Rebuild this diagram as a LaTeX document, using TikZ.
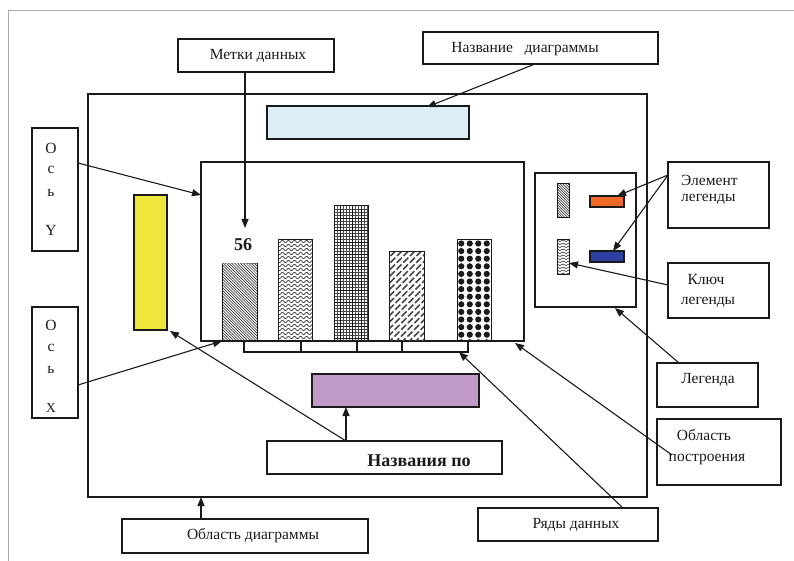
\documentclass[tikz,border=0pt]{standalone}
\usepackage{fontspec}
\setmainfont{Liberation Serif}
\usetikzlibrary{arrows.meta}
\definecolor{titleblue}{HTML}{DAEEF3}
\definecolor{axyellow}{HTML}{EEE63A}
\definecolor{axpurple}{HTML}{C09AC8}
\definecolor{legorange}{HTML}{F26A28}
\definecolor{legblue}{HTML}{2E3FA2}
\definecolor{frame}{HTML}{AAAAAA}
\definecolor{ink}{HTML}{1A1A1A}
\begin{document}
\begin{tikzpicture}[x=1pt,y=-1pt,
  box/.style={draw=ink, line width=1.6pt, rectangle, inner sep=0pt, outer sep=0pt},
  thinbox/.style={draw=ink, line width=1.2pt, rectangle, inner sep=0pt, outer sep=0pt},
  txt/.style={font=\fontsize{15.5}{18}\selectfont, inner sep=0pt, text=ink},
  bigtxt/.style={font=\fontsize{18}{21}\selectfont\bfseries, inner sep=0pt, text=ink},
  arr/.style={draw=ink, line width=1.1pt, -{Triangle[length=9pt,width=7pt]}},
  barb/.style={draw=ink, line width=1pt, rectangle, inner sep=0pt, outer sep=0pt},
]
\path[use as bounding box] (0,0) rectangle (794,561);
\draw[frame, line width=1pt] (8,561) -- (8,11) -- (794,11);

% chart area and inner parts
\node[box, minimum width=559pt, minimum height=403pt] (chartarea) at (367.5,295.5) {};
\node[thinbox, fill=titleblue, minimum width=202pt, minimum height=33pt] (titlerect) at (368,122.5) {};
\node[box, minimum width=323pt, minimum height=179pt] (plot) at (362.5,251.5) {};
\node[thinbox, fill=axyellow, minimum width=33pt, minimum height=135pt] (yellow) at (150.5,262.5) {};
\node[thinbox, fill=axpurple, minimum width=167pt, minimum height=33pt] (purple) at (395.5,390.5) {};

% x-axis tick box
\node[thinbox, minimum width=224pt, minimum height=11pt] (ticks) at (356,346.5) {};
\foreach \tx in {301,357,402} \draw[ink, line width=1.2pt] (\tx,341) -- (\tx,352);

% bar 1
\node[minimum width=35pt, minimum height=78pt, inner sep=0pt, outer sep=0pt] (bar1) at (239.5,302) {};
\begin{scope}
  \clip (222,263) rectangle (257,341);
  \foreach \x in {142,144.8,...,260} \draw[ink, line width=0.5pt] (\x,263) -- ++(80,80);
\end{scope}
\draw[ink, line width=1pt] (222,263) -- (222,341) -- (257,341) -- (257,263);
\draw[ink!60, line width=0.6pt, dash pattern=on 1.5pt off 1.5pt] (222,263) -- (257,263);
\node[bigtxt] (lab56) at (243,245) {56};

% bar 2 (wavy)
\node[barb, minimum width=34pt, minimum height=102pt] (bar2) at (295,290) {};
\begin{scope}
  \clip (278,239) rectangle (312,341);
  \foreach \yy in {241.5,245.5,...,342} \draw[ink, line width=0.55pt] plot[domain=-2:36, samples=40, smooth] ({\x+278},{\yy+1.3*sin(\x*60)});
\end{scope}
\draw[ink, line width=1pt] (278,239) rectangle (312,341);

% bar 3 (grid)
\node[barb, minimum width=34pt, minimum height=135pt] (bar3) at (351,273.5) {};
\begin{scope}
  \clip (334,206) rectangle (368,341);
  \foreach \x in {337,340,...,368} \draw[ink!80, line width=0.35pt] (\x,206) -- (\x,341);
  \foreach \y in {209,212,...,341} \draw[ink!80, line width=0.35pt] (334,\y) -- (368,\y);
  \foreach \x in {340,352,361} \draw[ink, line width=0.9pt] (\x,206) -- (\x,341);
  \foreach \y in {218,230,...,341} \draw[ink, line width=0.9pt] (334,\y) -- (368,\y);
\end{scope}
\draw[ink, line width=1pt] (334,206) rectangle (368,341);

% bar 4 (diagonal bricks)
\node[barb, minimum width=35pt, minimum height=90pt] (bar4) at (406.5,296) {};
\begin{scope}
  \clip (389,251) rectangle (424,341);
  \foreach \x in {389,395.5,...,530} \draw[ink!80, line width=1.7pt, dash pattern=on 7pt off 2.5pt] (\x,251) -- ++(-110,110);
\end{scope}
\draw[ink, line width=1pt] (389,251) rectangle (424,341);

% bar 5 (dots)
\node[barb, minimum width=34pt, minimum height=102pt] (bar5) at (474,290) {};
\begin{scope}
  \clip (457,239) rectangle (491,341);
  \foreach \c in {0,...,3} \foreach \r in {0,...,13} \fill[ink] ({461.25+8.5*\c},{243.5+7.6*\r}) circle (3.1pt);
\end{scope}
\draw[ink, line width=1pt] (457,239) rectangle (491,341);

% legend
\node[box, minimum width=101pt, minimum height=134pt] (legend) at (585.5,240) {};
\node[barb, minimum width=12pt, minimum height=34pt] (key1) at (563,201) {};
\begin{scope}
  \clip (557,184) rectangle (569,218);
  \foreach \y in {160,162.6,...,220} \draw[ink, line width=0.55pt] (557,\y) -- ++(14,14);
\end{scope}
\draw[ink, line width=1pt] (557,184) rectangle (569,218);
\node[barb, minimum width=12pt, minimum height=35pt] (key2) at (563,256.5) {};
\begin{scope}
  \clip (557,239) rectangle (569,274);
  \foreach \yy in {240,243,...,276} \draw[ink, line width=0.6pt] (557,\yy) -- (560,\yy+1.5) -- (563,\yy) -- (566,\yy+1.5) -- (569,\yy);
\end{scope}
\draw[ink, line width=1pt] (557,239) rectangle (569,274);
\node[thinbox, fill=legorange, minimum width=34pt, minimum height=11pt] (orange) at (607,201.5) {};
\node[thinbox, fill=legblue, minimum width=34pt, minimum height=11pt] (blue) at (607,256.5) {};

% callout boxes
\node[box, minimum width=156pt, minimum height=33pt] (metki) at (256,55.5) {};
\node[txt] (metkiT) at (258,56) {Метки данных};
\node[box, minimum width=235pt, minimum height=32pt] (nazv) at (540.5,48) {};
\node[txt] (nazvT) at (525,49) {Название\ \ \ диаграммы};
\node[box, minimum width=46pt, minimum height=123pt] (osY) at (55,189.5) {};
\node[txt] (osY1) at (51,148) {О};
\node[txt] (osY2) at (51,170) {с};
\node[txt] (osY3) at (51,193) {ь};
\node[txt] (osY4) at (51,230) {Y};
\node[box, minimum width=46pt, minimum height=111pt] (osX) at (55,362.5) {};
\node[txt] (osX1) at (51,325) {О};
\node[txt] (osX2) at (51,348) {с};
\node[txt] (osX3) at (51,370) {ь};
\node[txt, font=\fontsize{13.5}{16}\selectfont] (osX4) at (51,408) {X};
\node[box, minimum width=235pt, minimum height=33pt] (nazvpo) at (384.5,457.5) {};
\node[bigtxt] (nazvpoT) at (419,461) {Названия по};
\node[box, minimum width=246pt, minimum height=34pt] (oblD) at (245,536) {};
\node[txt] (oblDT) at (253,536) {Область диаграммы};
\node[box, minimum width=180pt, minimum height=33pt] (ryady) at (568,524.5) {};
\node[txt] (ryadyT) at (576,525) {Ряды данных};
\node[box, minimum width=124pt, minimum height=66pt] (oblP) at (719,452) {};
\node[txt] (oblPT1) at (704,435) {Область};
\node[txt] (oblPT2) at (707,459) {построения};
\node[box, minimum width=101pt, minimum height=44pt] (legenda) at (707.5,385) {};
\node[txt] (legendaT) at (708,380) {Легенда};
\node[box, minimum width=101pt, minimum height=66pt] (element) at (718.5,195) {};
\node[txt, anchor=west] (elementT1) at (681,180) {Элемент};
\node[txt, anchor=west] (elementT2) at (681,199) {легенды};
\node[box, minimum width=101pt, minimum height=55pt] (kluch) at (718.5,290.5) {};
\node[txt] (kluchT1) at (706,279) {Ключ};
\node[txt] (kluchT2) at (708,302) {легенды};

% arrow tips
\coordinate (tMetki) at (245,228);
\coordinate (tTitle) at (427,107);
\coordinate (tOsY) at (201,195);
\coordinate (tOsX) at (222,341);
\coordinate (tYellow) at (170,331);
\coordinate (tRyady) at (459,352);
\coordinate (sOblP) at (672,455);
\coordinate (tOblP) at (515,343);
\coordinate (tLegend) at (615,308);
\coordinate (tOrange) at (617,196);
\coordinate (tBlue) at (613,251);
\coordinate (tKey) at (569,263);

% connectors
\draw[arr] (metki.south -| tMetki) -- (tMetki);
\draw[arr] (nazv.south -| 535,0) -- (tTitle);
\draw[arr] (osY.east |- 0,163) -- (tOsY);
\draw[arr] (osX.east |- 0,385) -- (tOsX);
\draw[arr] (nazvpo.north -| 346,0) -- (purple.south -| 346,0);
\draw[arr] (nazvpo.north -| 346,0) -- (tYellow);
\draw[arr] (oblD.north -| 201,0) -- (chartarea.south -| 201,0);
\draw[arr] (ryady.north -| 623,0) -- (tRyady);
\draw[arr] (sOblP) -- (tOblP);
\draw[arr] (legenda.north -| 679,0) -- (tLegend);
\draw[arr] (element.west |- 0,175) -- (tOrange);
\draw[arr] (element.west |- 0,175) -- (tBlue);
\draw[arr] (kluch.west |- 0,285) -- (tKey);
\end{tikzpicture}
\end{document}
